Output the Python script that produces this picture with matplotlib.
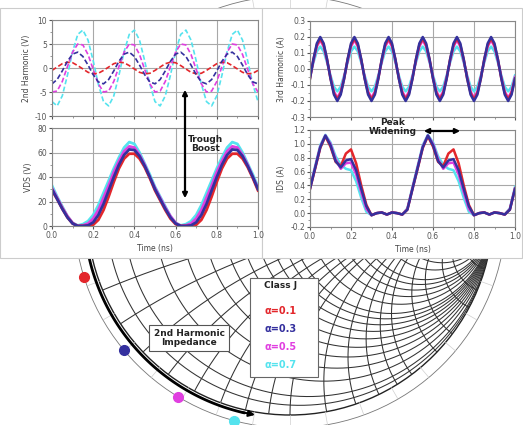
import numpy as np
import matplotlib
matplotlib.use("Agg")
import matplotlib.pyplot as plt
from matplotlib.patches import Circle, Rectangle
from matplotlib.ticker import AutoMinorLocator

# ---- series: alpha = 0.1, 0.3, 0.5, 0.7 (Class J) ----
alpha_labels = ["α=0.1", "α=0.3", "α=0.5", "α=0.7"]
colors = ["#e3262b", "#34309e", "#e03fe0", "#55e3ee"]
draw_order = [3, 2, 0, 1]

t_41 = np.linspace(0, 1, 41)
t_61 = np.linspace(0, 1, 61)

# 2nd harmonic voltage (V)
v2_a01 = [-0.5, 0.2, 0.9, 1.2, 1.1, 0.5, -0.2, -0.9, -1.2, -1.1,
          -0.5, 0.2, 0.9, 1.2, 1.1, 0.5, -0.2, -0.9, -1.2, -1.1,
          -0.5, 0.2, 0.9, 1.2, 1.1, 0.5, -0.2, -0.9, -1.2, -1.1,
          -0.5, 0.2, 0.9, 1.2, 1.1, 0.5, -0.2, -0.9, -1.2, -1.1, -0.5]
v2_a03 = [-3.3, -2.4, -0.6, 1.4, 2.9, 3.3, 2.4, 0.6, -1.4, -2.9,
          -3.3, -2.4, -0.6, 1.4, 2.9, 3.3, 2.4, 0.6, -1.4, -2.9,
          -3.3, -2.4, -0.6, 1.4, 2.9, 3.3, 2.4, 0.6, -1.4, -2.9,
          -3.3, -2.4, -0.6, 1.4, 2.9, 3.3, 2.4, 0.6, -1.4, -2.9, -3.3]
v2_a05 = [-5.0, -4.8, -2.8, 0.3, 3.3, 5.0, 4.8, 2.8, -0.3, -3.3,
          -5.0, -4.8, -2.8, 0.3, 3.3, 5.0, 4.8, 2.8, -0.3, -3.3,
          -5.0, -4.8, -2.8, 0.3, 3.3, 5.0, 4.8, 2.8, -0.3, -3.3,
          -5.0, -4.8, -2.8, 0.3, 3.3, 5.0, 4.8, 2.8, -0.3, -3.3, -5.0]
v2_a07 = [-7.0, -7.9, -5.8, -1.5, 3.4, 7.0, 7.9, 5.8, 1.5, -3.4,
          -7.0, -7.9, -5.8, -1.5, 3.4, 7.0, 7.9, 5.8, 1.5, -3.4,
          -7.0, -7.9, -5.8, -1.5, 3.4, 7.0, 7.9, 5.8, 1.5, -3.4,
          -7.0, -7.9, -5.8, -1.5, 3.4, 7.0, 7.9, 5.8, 1.5, -3.4, -7.0]

# drain voltage VDS (V)
vds_a01 = [29, 22, 14, 7, 2, 0, 0, 0, 1, 5, 13, 24, 36, 47, 55, 59, 59, 55, 48, 39,
           29, 21, 13, 6, 1.5, 0, 0, 0, 1, 5, 13, 24, 36, 47, 55, 59, 59, 55, 48, 39, 29]
vds_a03 = [30, 22, 14, 7, 2, 0, 0, 0.5, 3, 9, 18, 29, 40, 50, 58, 62.5, 62, 57, 49, 40,
           30, 22, 14, 7, 2, 0, 0, 0.5, 3, 9, 18, 29, 40, 50, 58, 62.5, 62, 57, 49, 40, 30]
vds_a05 = [31, 23, 15, 8, 2.5, 0, 0.5, 2, 6, 13, 23, 33, 44, 53, 61, 65, 64, 58, 50, 40,
           31, 23, 15, 8, 2.5, 0, 0.5, 2, 6, 13, 23, 33, 44, 53, 61, 65, 64, 58, 50, 40, 31]
vds_a07 = [33, 24, 16, 8, 2.5, 0.5, 1.5, 4, 9, 17, 27, 37, 47, 56, 64, 68.5, 67, 60, 51, 42,
           32, 24, 16, 8, 2.5, 0.5, 1.5, 4, 9, 17, 27, 37, 47, 56, 64, 68.5, 67, 60, 51, 42, 32]

# 3rd harmonic current (A)
i3_a01 = [-0.06, 0.06, 0.15, 0.19, 0.15, 0.06, -0.06, -0.15, -0.19, -0.15,
          -0.06, 0.06, 0.15, 0.19, 0.15, 0.06, -0.06, -0.15, -0.19, -0.15,
          -0.06, 0.06, 0.15, 0.19, 0.15, 0.06, -0.06, -0.15, -0.19, -0.15,
          -0.06, 0.06, 0.15, 0.19, 0.15, 0.06, -0.06, -0.15, -0.19, -0.15,
          -0.06, 0.06, 0.15, 0.19, 0.15, 0.06, -0.06, -0.15, -0.19, -0.15,
          -0.06, 0.06, 0.15, 0.19, 0.15, 0.06, -0.06, -0.15, -0.19, -0.15, -0.06]
i3_a03 = [-0.06, 0.06, 0.16, 0.20, 0.16, 0.06, -0.06, -0.16, -0.20, -0.16,
          -0.06, 0.06, 0.16, 0.20, 0.16, 0.06, -0.06, -0.16, -0.20, -0.16,
          -0.06, 0.06, 0.16, 0.20, 0.16, 0.06, -0.06, -0.16, -0.20, -0.16,
          -0.06, 0.06, 0.16, 0.20, 0.16, 0.06, -0.06, -0.16, -0.20, -0.16,
          -0.06, 0.06, 0.16, 0.20, 0.16, 0.06, -0.06, -0.16, -0.20, -0.16,
          -0.06, 0.06, 0.16, 0.20, 0.16, 0.06, -0.06, -0.16, -0.20, -0.16, -0.06]
i3_a05 = [-0.05, 0.05, 0.14, 0.18, 0.14, 0.05, -0.05, -0.14, -0.18, -0.14,
          -0.05, 0.05, 0.14, 0.18, 0.14, 0.05, -0.05, -0.14, -0.18, -0.14,
          -0.05, 0.05, 0.14, 0.18, 0.14, 0.05, -0.05, -0.14, -0.18, -0.14,
          -0.05, 0.05, 0.14, 0.18, 0.14, 0.05, -0.05, -0.14, -0.18, -0.14,
          -0.05, 0.05, 0.14, 0.18, 0.14, 0.05, -0.05, -0.14, -0.18, -0.14,
          -0.05, 0.05, 0.14, 0.18, 0.14, 0.05, -0.05, -0.14, -0.18, -0.14, -0.05]
i3_a07 = [-0.04, 0.04, 0.11, 0.14, 0.11, 0.04, -0.04, -0.11, -0.14, -0.11,
          -0.04, 0.04, 0.11, 0.14, 0.11, 0.04, -0.04, -0.11, -0.14, -0.11,
          -0.04, 0.04, 0.11, 0.14, 0.11, 0.04, -0.04, -0.11, -0.14, -0.11,
          -0.04, 0.04, 0.11, 0.14, 0.11, 0.04, -0.04, -0.11, -0.14, -0.11,
          -0.04, 0.04, 0.11, 0.14, 0.11, 0.04, -0.04, -0.11, -0.14, -0.11,
          -0.04, 0.04, 0.11, 0.14, 0.11, 0.04, -0.04, -0.11, -0.14, -0.11, -0.04]

# drain current IDS (A)
ids_a01 = [0.35, 0.64, 0.94, 1.11, 0.96, 0.74, 0.68, 0.86, 0.92, 0.72, 0.40, 0.12, -0.03, 0.00, 0.01, -0.02, 0.01, 0.00, -0.02, 0.05,
           0.35, 0.64, 0.94, 1.11, 0.96, 0.74, 0.68, 0.86, 0.92, 0.72, 0.40, 0.12, -0.03, 0.00, 0.01, -0.02, 0.01, 0.00, -0.02, 0.05, 0.35]
ids_a03 = [0.35, 0.65, 0.95, 1.12, 0.98, 0.75, 0.66, 0.76, 0.78, 0.62, 0.35, 0.10, -0.03, 0.00, 0.01, -0.02, 0.01, 0.00, -0.02, 0.05,
           0.35, 0.65, 0.95, 1.12, 0.98, 0.75, 0.66, 0.76, 0.78, 0.62, 0.35, 0.10, -0.03, 0.00, 0.01, -0.02, 0.01, 0.00, -0.02, 0.05, 0.35]
ids_a05 = [0.36, 0.66, 0.96, 1.12, 1.00, 0.78, 0.64, 0.72, 0.73, 0.56, 0.30, 0.06, -0.03, 0.00, 0.01, -0.02, 0.01, 0.00, -0.02, 0.06,
           0.36, 0.66, 0.96, 1.12, 1.00, 0.78, 0.64, 0.72, 0.73, 0.56, 0.30, 0.06, -0.03, 0.00, 0.01, -0.02, 0.01, 0.00, -0.02, 0.06, 0.36]
ids_a07 = [0.38, 0.68, 0.98, 1.13, 1.02, 0.82, 0.70, 0.64, 0.62, 0.46, 0.22, 0.02, -0.03, 0.00, 0.01, -0.02, 0.01, 0.00, -0.02, 0.07,
           0.38, 0.68, 0.98, 1.13, 1.02, 0.82, 0.70, 0.64, 0.62, 0.46, 0.22, 0.02, -0.03, 0.00, 0.01, -0.02, 0.01, 0.00, -0.02, 0.07, 0.38]

# 2nd harmonic impedance points on the Smith chart edge (angle of reflection coeff, deg)
z2_angles = [197.6, 219.7, 238.8, 255.0]

W, H = 523, 425
fig = plt.figure(figsize=(W / 100, H / 100), dpi=100)

# ---- Smith chart in the background (pixel coords, y down) ----
ax_bg = fig.add_axes([0, 0, 1, 1], zorder=0)
ax_bg.set_xlim(0, W)
ax_bg.set_ylim(H, 0)
ax_bg.axis("off")

cx, cy, S = 290, 212, 203
ring = 216


def to_px(u, v):
    return cx + S * np.asarray(u), cy - S * np.asarray(v)


clip = Circle((cx, cy), S, transform=ax_bg.transData)
th = np.linspace(0, 2 * np.pi, 4000)
grid_kw = dict(color="#333333", lw=0.75)
for r in [0.05, 0.1, 0.2, 0.3, 0.4, 0.5, 0.6, 0.7, 0.8, 0.9, 1.0, 1.2, 1.4, 1.6, 1.8,
          2.0, 2.5, 3, 4, 5, 7, 10, 20]:
    c, rad = r / (1 + r), 1 / (1 + r)
    px, py = to_px(c + rad * np.cos(th), rad * np.sin(th))
    ln, = ax_bg.plot(px, py, **grid_kw)
    ln.set_clip_path(clip)
for x in [0.05, 0.1, 0.2, 0.3, 0.4, 0.5, 0.6, 0.7, 0.8, 0.9, 1.0, 1.2, 1.4, 1.6, 1.8,
          2.0, 2.5, 3, 4, 5, 7, 10, 20]:
    for sgn in (1, -1):
        rad = 1 / x
        px, py = to_px(1 + rad * np.cos(th), sgn * rad + rad * np.sin(th))
        ln, = ax_bg.plot(px, py, **grid_kw)
        ln.set_clip_path(clip)
ax_bg.plot(*to_px([-1, 1], [0, 0]), **grid_kw)
ax_bg.add_patch(Circle((cx, cy), S, fill=False, ec="#222222", lw=1.0))
ax_bg.add_patch(Circle((cx, cy), ring, fill=False, ec="#777777", lw=0.6))
for k in range(0, 360, 10):
    a = np.deg2rad(k)
    ax_bg.plot([cx + S * np.cos(a), cx + ring * np.cos(a)],
               [cy - S * np.sin(a), cy - ring * np.sin(a)], color="#cfcfcf", lw=0.5)

# arc arrow along the edge
arc = np.deg2rad(np.linspace(193, 257, 100))
ax_bg.plot(cx + 206 * np.cos(arc), cy - 206 * np.sin(arc), color="black", lw=2)
a1, a2 = np.deg2rad(255.5), np.deg2rad(261)
ax_bg.annotate("", xy=(cx + 206 * np.cos(a2), cy - 206 * np.sin(a2)),
               xytext=(cx + 206 * np.cos(a1), cy - 206 * np.sin(a1)),
               arrowprops=dict(arrowstyle="-|>", color="black", lw=1.5, mutation_scale=9))

for ang, col in zip(z2_angles, colors):
    a = np.deg2rad(ang)
    ax_bg.plot(cx + ring * np.cos(a), cy - ring * np.sin(a), "o", color=col,
               ms=7, mec=col, zorder=6)

ax_bg.text(189, 338, "2nd Harmonic\nImpedance", ha="center", va="center",
           fontsize=6.5, weight="bold", color="#222222", linespacing=1.1,
           bbox=dict(boxstyle="square,pad=0.45", fc="white", ec="#555555", lw=0.8), zorder=7)

ax_bg.add_patch(Rectangle((250, 278), 68, 99, fc="white", ec="#666666", lw=0.8, zorder=7))
ax_bg.text(281, 286, "Class J", ha="center", va="center", fontsize=6.5,
           weight="bold", color="#222222", zorder=8)
for lab, col, yy in zip(alpha_labels, colors, [311, 329, 347, 365]):
    ax_bg.text(281, yy, lab, ha="center", va="center", fontsize=7,
               weight="bold", color=col, zorder=8)

# ---- white frames behind the waveform panels ----
for x0, x1 in [(0, 262), (262, 522)]:
    fig.patches.append(Rectangle((x0 / W, 1 - 258 / H), (x1 - x0) / W, 250 / H,
                                 transform=fig.transFigure, fc="white",
                                 ec="#cccccc", lw=0.8, zorder=1))


def panel(rect, t, series, ylim, yticks, ytl, ylabel, bottom, ls, lw):
    ax = fig.add_axes(rect, zorder=2)
    for k in draw_order:
        ax.plot(t, series[k], color=colors[k], ls=ls, lw=lw)
    ax.set_xlim(0, 1)
    ax.set_ylim(*ylim)
    ax.set_xticks(np.arange(0, 1.01, 0.2))
    ax.set_yticks(yticks)
    ax.set_yticklabels(ytl)
    ax.xaxis.set_minor_locator(AutoMinorLocator(2))
    ax.yaxis.set_minor_locator(AutoMinorLocator(2))
    ax.grid(True, color="#a8a8a8", lw=0.8)
    ax.tick_params(labelsize=5.5, colors="#555555", length=2, pad=1.5)
    ax.tick_params(which="minor", length=1.5, colors="#888888")
    for sp in ax.spines.values():
        sp.set_color("#888888")
        sp.set_linewidth(0.8)
    ax.set_ylabel(ylabel, fontsize=5.5, color="#444444", labelpad=3)
    if bottom:
        ax.set_xticklabels(["0.0", "0.2", "0.4", "0.6", "0.8", "1.0"])
        ax.set_xlabel("Time (ns)", fontsize=5.5, color="#444444", labelpad=3)
    else:
        ax.set_xticklabels([])
    return ax


panel([52 / W, 1 - 116 / H, 206 / W, 96 / H], t_41, [v2_a01, v2_a03, v2_a05, v2_a07],
      (-10, 10), [-10, -5, 0, 5, 10], ["-10", "-5", "0", "5", "10"],
      "2nd Harmonic (V)", False, (0, (3, 1.5)), 1.2)
panel([52 / W, 1 - 226 / H, 206 / W, 98 / H], t_41, [vds_a01, vds_a03, vds_a05, vds_a07],
      (0, 80), [0, 20, 40, 60, 80], ["0", "20", "40", "60", "80"],
      "VDS (V)", True, "-", 2.0)
panel([310 / W, 1 - 117 / H, 205 / W, 96 / H], t_61, [i3_a01, i3_a03, i3_a05, i3_a07],
      (-0.3, 0.3), [-0.3, -0.2, -0.1, 0.0, 0.1, 0.2, 0.3],
      ["-0.3", "-0.2", "-0.1", "0.0", "0.1", "0.2", "0.3"],
      "3rd Harmonic (A)", False, "-", 1.8)
panel([310 / W, 1 - 227 / H, 205 / W, 97 / H], t_41, [ids_a01, ids_a03, ids_a05, ids_a07],
      (-0.2, 1.2), [-0.2, 0.0, 0.2, 0.4, 0.6, 0.8, 1.0, 1.2],
      ["-0.2", "0.0", "0.2", "0.4", "0.6", "0.8", "1.0", "1.2"],
      "IDS (A)", True, "-", 1.8)

# ---- annotations on top ----
ax_top = fig.add_axes([0, 0, 1, 1], zorder=10)
ax_top.set_xlim(0, W)
ax_top.set_ylim(H, 0)
ax_top.axis("off")
ax_top.annotate("", xy=(185, 87), xytext=(185, 201),
                arrowprops=dict(arrowstyle="<|-|>", color="black", lw=1.6, mutation_scale=7))
ax_top.text(206, 144, "Trough\nBoost", ha="center", va="center", fontsize=6.5,
            weight="bold", color="#222222", linespacing=1.05)
ax_top.annotate("", xy=(421, 131), xytext=(463, 131),
                arrowprops=dict(arrowstyle="<|-|>", color="black", lw=1.6, mutation_scale=7))
ax_top.text(393, 127, "Peak\nWidening", ha="center", va="center", fontsize=6.5,
            weight="bold", color="#222222", linespacing=1.0)

fig.savefig("out.png", dpi=100)
